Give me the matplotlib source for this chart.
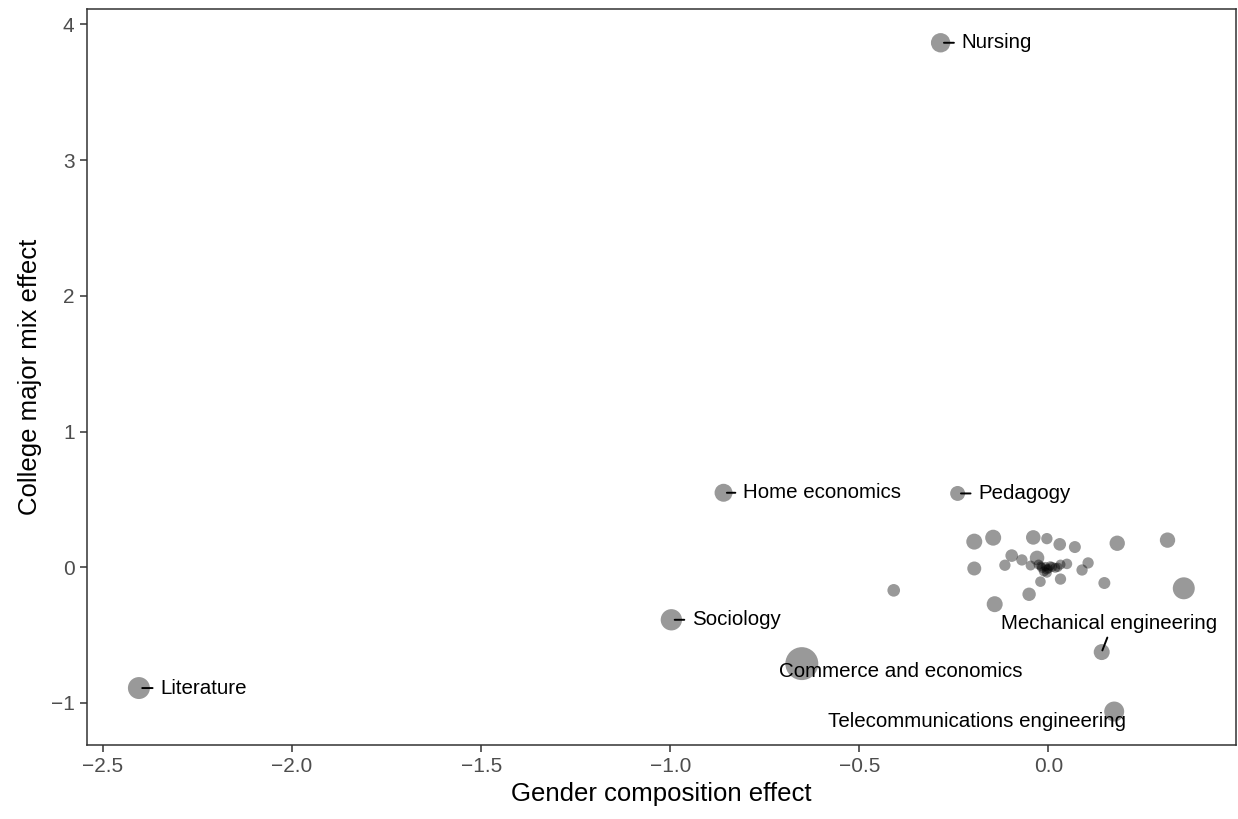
import numpy as np
import matplotlib
matplotlib.use("Agg")
import matplotlib.pyplot as plt

plt.rcParams['font.family'] = ['Liberation Sans', 'DejaVu Sans']

# labelled majors
label_names = ['Nursing', 'Home economics', 'Pedagogy', 'Sociology', 'Literature',
               'Commerce and economics', 'Mechanical engineering',
               'Telecommunications engineering']
label_x = [-0.285, -0.859, -0.240, -0.997, -2.405, -0.652, 0.141, 0.174]
label_y = [3.865, 0.549, 0.544, -0.387, -0.890, -0.710, -0.625, -1.063]
label_w = [94, 81, 56, 114, 121, 272, 64, 100]

# other majors (unlabelled)
other_x = [-0.409, -0.196, -0.146, -0.040, -0.004, 0.030, 0.070, -0.196, -0.097,
           -0.070, -0.115, -0.030, -0.047, -0.004, 0.032, -0.021, -0.051, -0.142,
           0.089, 0.182, 0.315, 0.105, 0.148, 0.358, 0.049,
           -0.026, -0.017, -0.004, 0.010, 0.018, 0.032, -0.012,
           -0.008, 0.000, 0.005, -0.020, 0.025]
other_y = [-0.170, 0.189, 0.218, 0.220, 0.211, 0.169, 0.149, -0.009, 0.086,
           0.054, 0.015, 0.069, 0.013, -0.040, -0.087, -0.106, -0.199, -0.272,
           -0.020, 0.177, 0.200, 0.032, -0.116, -0.155, 0.025,
           0.020, -0.004, -0.016, 0.003, -0.004, 0.020, -0.031,
           0.005, -0.010, 0.010, 0.008, 0.000]
other_w = [40, 64, 64, 53, 32, 40, 36, 49, 40,
           32, 32, 53, 25, 25, 32, 28, 45, 64,
           32, 59, 59, 32, 36, 121, 28,
           25, 25, 25, 25, 25, 25, 25,
           22, 22, 22, 22, 22]

# label placement: offset of text from point in data units, alignment, leader line
label_dx = [0.055, 0.051, 0.054, 0.054, 0.056, 0.261, 0.019, -0.363]
label_dy = [0.0, 0.0, 0.0, 0.0, 0.0, -0.058, 0.207, -0.075]
label_ha = ['left', 'left', 'left', 'left', 'left', 'center', 'center', 'center']
label_line = [True, True, True, True, True, False, True, False]

fig = plt.figure(figsize=(12.38, 8.19), dpi=100)
ax = fig.add_axes([0.0700, 0.0904, 0.9284, 0.8982])

all_x = np.array(label_x + other_x)
all_y = np.array(label_y + other_y)
all_w = np.array(label_w + other_w)
ax.scatter(all_x, all_y, s=all_w * 2.07, color='black', alpha=0.4,
           edgecolors='none', zorder=2)

for i, name in enumerate(label_names):
    tx = label_x[i] + label_dx[i]
    ty = label_y[i] + label_dy[i]
    if label_line[i]:
        if label_ha[i] == 'left':
            props = dict(arrowstyle='-', color='black', lw=1.4,
                         shrinkA=3.4, shrinkB=2.4, relpos=(0, 0.5))
        else:
            props = dict(arrowstyle='-', color='black', lw=1.4,
                         shrinkA=1.0, shrinkB=1.3, relpos=(0.5, 0))
        ax.annotate(name, xy=(label_x[i], label_y[i]), xytext=(tx, ty),
                    ha=label_ha[i], va='center', fontsize=14.8,
                    arrowprops=props, zorder=3)
    else:
        ax.text(tx, ty, name, ha=label_ha[i], va='center', fontsize=14.8, zorder=3)

x_pad = 0.05 * (all_x.max() - all_x.min())
y_pad = 0.05 * (all_y.max() - all_y.min())
ax.set_xlim(all_x.min() - x_pad, all_x.max() + x_pad)
ax.set_ylim(all_y.min() - y_pad, all_y.max() + y_pad)

ax.set_xticks([-2.5, -2.0, -1.5, -1.0, -0.5, 0.0])
ax.set_xticklabels(['\u22122.5', '\u22122.0', '\u22121.5', '\u22121.0', '\u22120.5', '0.0'])
ax.set_yticks([-1, 0, 1, 2, 3, 4])
ax.set_yticklabels(['\u22121', '0', '1', '2', '3', '4'])
ax.tick_params(direction='out', length=5, width=1.1, color='#333333',
               labelcolor='#4D4D4D', labelsize=15, pad=3.7)
for sp in ax.spines.values():
    sp.set_color('#333333')
    sp.set_linewidth(1.1)

ax.set_xlabel('Gender composition effect', fontsize=18.5, labelpad=4)
ax.set_ylabel('College major mix effect', fontsize=18.5, labelpad=6)

fig.savefig('out.png', dpi=100)
